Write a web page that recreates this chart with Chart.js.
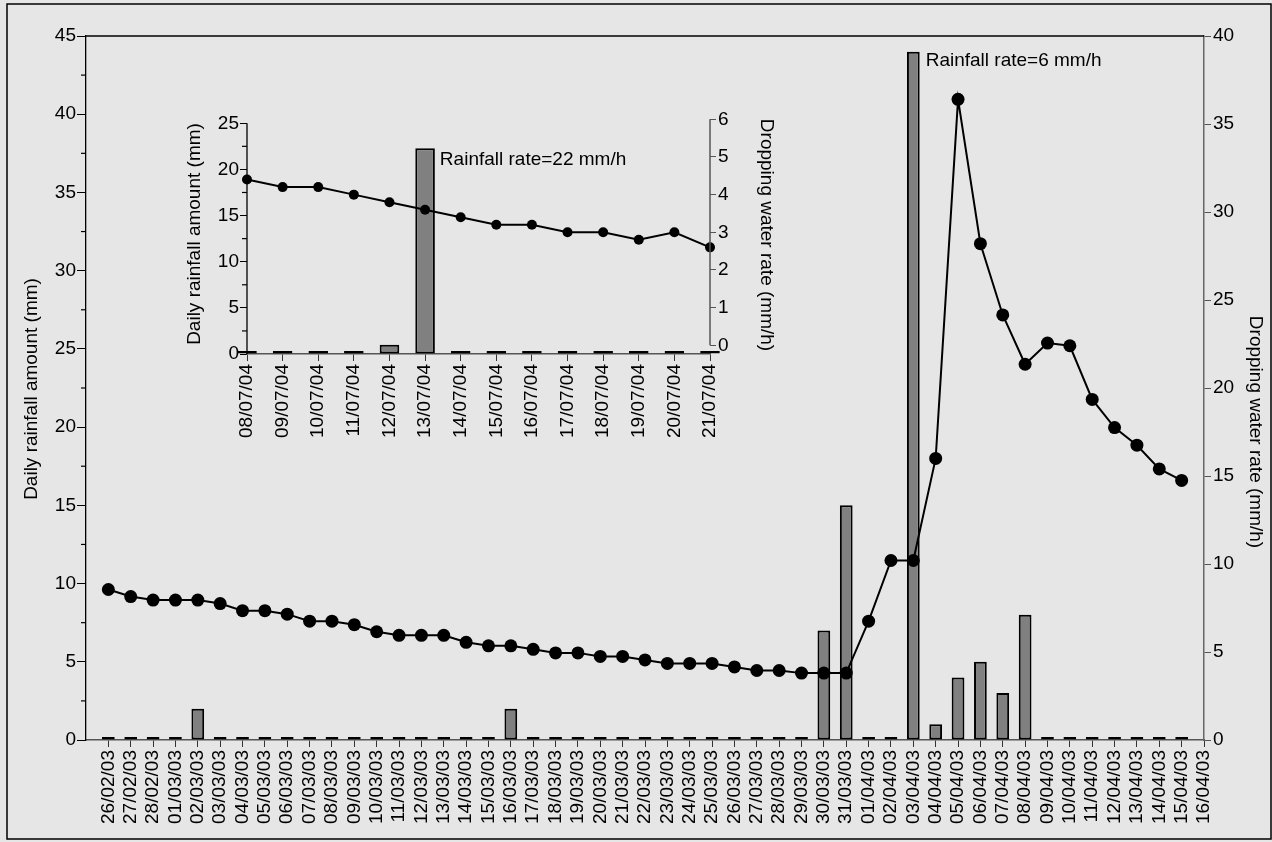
<!DOCTYPE html>
<html>
<head>
<meta charset="utf-8">
<script src="https://cdn.jsdelivr.net/npm/chart.js@4.4.1/dist/chart.umd.min.js"></script>
<style>
  html, body { margin: 0; padding: 0; background: #e6e6e6; }
  #wrap { position: relative; width: 1272px; height: 842px; }
  #main { position: absolute; left: 0; top: 0; }
  #inset { position: absolute; left: 150px; top: 100px; }
</style>
</head>
<body>
<div id="wrap">
  <canvas id="main" width="1272" height="842"></canvas>
  <canvas id="inset" width="640" height="350"></canvas>
</div>
<script>
/* ---- main chart data (spring 2003) ---- */
const dates = [
  "26/02/03", "27/02/03", "28/02/03",
  "01/03/03", "02/03/03", "03/03/03", "04/03/03", "05/03/03", "06/03/03", "07/03/03", "08/03/03",
  "09/03/03", "10/03/03", "11/03/03", "12/03/03", "13/03/03", "14/03/03", "15/03/03", "16/03/03",
  "17/03/03", "18/03/03", "19/03/03", "20/03/03", "21/03/03", "22/03/03", "23/03/03", "24/03/03",
  "25/03/03", "26/03/03", "27/03/03", "28/03/03", "29/03/03", "30/03/03", "31/03/03",
  "01/04/03", "02/04/03", "03/04/03", "04/04/03", "05/04/03", "06/04/03", "07/04/03", "08/04/03",
  "09/04/03", "10/04/03", "11/04/03", "12/04/03", "13/04/03", "14/04/03", "15/04/03", "16/04/03",
];
// daily rainfall (mm), 26/02 .. 15/04
const rainfall = [
  0, 0, 0, 0, 2, 0, 0, 0, 0, 0, 0, 0, 0, 0, 0, 0, 0, 0, 2, 0, 0, 0, 0, 0, 0,
  0, 0, 0, 0, 0, 0, 0, 7, 15, 0, 0, 44, 1, 4, 5, 3, 8, 0, 0, 0, 0, 0, 0, 0,
];
// dropping water rate (mm/h), 26/02 .. 15/04
const dropRate = [
  8.55, 8.15, 7.95, 7.95, 7.95, 7.75, 7.35, 7.35, 7.15, 6.75, 6.75, 6.55, 6.15, 5.95, 5.95, 5.95,
  5.55, 5.35, 5.35, 5.15, 4.95, 4.95, 4.75, 4.75, 4.55, 4.35, 4.35, 4.35, 4.15, 3.95, 3.95, 3.8,
  3.8, 3.8, 6.75, 10.2, 10.2, 16.0, 36.4, 28.2, 24.15, 21.35, 22.55, 22.4, 19.35, 17.75, 16.75,
  15.4, 14.75,
];
const leftTicks = [0, 5, 10, 15, 20, 25, 30, 35, 40, 45];
const rightTicks = [0, 5, 10, 15, 20, 25, 30, 35, 40];

/* ---- inset data (July 2004) ---- */
const insetDates = [
  "08/07/04", "09/07/04", "10/07/04", "11/07/04", "12/07/04", "13/07/04", "14/07/04",
  "15/07/04", "16/07/04", "17/07/04", "18/07/04", "19/07/04", "20/07/04", "21/07/04",
];
const insetRainfall = [0, 0, 0, 0, 1, 22.3, 0.3, 0, 0, 0, 0, 0, 0, 0];
const insetDropRate = [4.4, 4.2, 4.2, 4.0, 3.8, 3.6, 3.4, 3.2, 3.2, 3.0, 3.0, 2.8, 3.0, 2.6];
const insetLeftTicks = [0, 5, 10, 15, 20, 25];
const insetRightTicks = [0, 1, 2, 3, 4, 5, 6];

const FONT = '"Liberation Sans", Arial, sans-serif';
Chart.defaults.font.family = FONT;
Chart.defaults.font.size = 19;
Chart.defaults.color = "#000";

/* ---------------- helpers ---------------- */
function seg(ctx, x1, y1, x2, y2, color, w) {
  ctx.beginPath();
  ctx.strokeStyle = color;
  ctx.lineWidth = w;
  ctx.moveTo(x1, y1);
  ctx.lineTo(x2, y2);
  ctx.stroke();
}
function rotText(ctx, txt, x, y, angle) {
  ctx.save();
  ctx.translate(x, y);
  ctx.rotate(angle);
  ctx.font = `19px ${FONT}`;
  ctx.fillStyle = "#000";
  ctx.textAlign = "center";
  ctx.textBaseline = "middle";
  ctx.fillText(txt, 0, 0);
  ctx.restore();
}
function minorTicks(ctx, scale, from, to, step, len, color) {
  for (let v = from; v < to; v += step) {
    const y = scale.getPixelForValue(v);
    seg(ctx, scale.right - len, y, scale.right, y, color, 1.2);
  }
}
function fixTicks(list) {
  return (s) => { s.ticks = list.map((v) => ({ value: v })); };
}

/* ---------------- main chart ---------------- */
const mainDecor = {
  id: "mainDecor",
  afterDraw(chart) {
    const { ctx, chartArea: a, scales } = chart;
    ctx.save();
    ctx.strokeStyle = "#000";
    ctx.lineWidth = 1.5;
    ctx.strokeRect(7, 4, 1264, 835);
    seg(ctx, a.left, a.top, a.right, a.top, "#000", 1.3);
    minorTicks(ctx, scales.y, 2.5, 45, 5, 5, "#000");
    rotText(ctx, "Daily rainfall amount (mm)", 32, 389, -Math.PI / 2);
    rotText(ctx, "Dropping water rate (mm/h)", 1255, 432, Math.PI / 2);

    const peak = rainfall.indexOf(Math.max(...rainfall)) + 1;
    const bar = chart.getDatasetMeta(0).data[peak];
    ctx.font = `19px ${FONT}`;
    ctx.fillStyle = "#000";
    ctx.textAlign = "left";
    ctx.textBaseline = "middle";
    ctx.fillText("Rainfall rate=6 mm/h", bar.x + bar.width / 2 + 6, bar.y + 9);
    ctx.restore();
  },
};

new Chart(document.getElementById("main"), {
  type: "bar",
  data: {
    labels: ["", ...dates],
    datasets: [
      {
        type: "bar", data: [null, ...rainfall], yAxisID: "y", order: 2,
        backgroundColor: "#808080", borderColor: "#000", borderWidth: 2,
        borderSkipped: false, minBarLength: 3, barPercentage: 0.57, categoryPercentage: 1,
      },
      {
        type: "line", data: [null, ...dropRate], yAxisID: "y1", order: 1,
        borderColor: "#000", borderWidth: 2, tension: 0,
        pointRadius: 6.5, pointBackgroundColor: "#000", pointBorderWidth: 0,
      },
    ],
  },
  options: {
    responsive: false, animation: false, devicePixelRatio: 1,
    layout: { padding: { top: 36, left: 0, right: 0, bottom: 0 } },
    plugins: { legend: { display: false }, tooltip: { enabled: false } },
    scales: {
      x: {
        type: "category", offset: false,
        grid: {
          offset: false, drawOnChartArea: false, tickLength: 7,
          tickColor: (c) => (c.index === 0 ? "rgba(0,0,0,0)" : "#333"),
        },
        border: { color: "#555", width: 1.5 },
        ticks: { autoSkip: false, minRotation: 90, maxRotation: 90, padding: 3 },
        afterFit: (s) => { s.height = 102; },
      },
      y: {
        position: "left", min: 0, max: 45,
        afterBuildTicks: fixTicks(leftTicks),
        grid: { drawOnChartArea: false, tickLength: 9, color: "#000" },
        border: { color: "#000", width: 1.3 },
        ticks: { padding: 1 },
        afterFit: (s) => { s.width = 86; },
      },
      y1: {
        position: "right", min: 0, max: 40,
        afterBuildTicks: fixTicks(rightTicks),
        grid: { drawOnChartArea: false, tickLength: 7, color: "#555" },
        border: { color: "#666", width: 1.5 },
        ticks: { padding: 2 },
        afterFit: (s) => { s.width = 68; },
      },
    },
  },
  plugins: [mainDecor],
});

/* ---------------- inset chart ---------------- */
const insetDecor = {
  id: "insetDecor",
  afterDraw(chart) {
    const { ctx, scales } = chart;
    const yl = scales.y, yr = scales.y1;
    ctx.save();
    seg(ctx, yl.right, yl.getPixelForValue(0), yl.right, yl.getPixelForValue(25), "#000", 1.3);
    seg(ctx, yr.left, yr.getPixelForValue(0), yr.left, yr.getPixelForValue(6), "#555", 1.5);
    minorTicks(ctx, yl, 2.5, 25, 5, 5, "#000");
    rotText(ctx, "Daily rainfall amount (mm)", 45, 134, -Math.PI / 2);
    rotText(ctx, "Dropping water rate (mm/h)", 616, 135, Math.PI / 2);

    const peak = insetRainfall.indexOf(Math.max(...insetRainfall));
    const bar = chart.getDatasetMeta(0).data[peak];
    ctx.font = `19px ${FONT}`;
    ctx.fillStyle = "#000";
    ctx.textAlign = "left";
    ctx.textBaseline = "middle";
    ctx.fillText("Rainfall rate=22 mm/h", bar.x + bar.width / 2 + 5, bar.y + 12);
    ctx.restore();
  },
};

new Chart(document.getElementById("inset"), {
  type: "bar",
  data: {
    labels: insetDates,
    datasets: [
      {
        type: "bar", data: insetRainfall, yAxisID: "y", order: 2, clip: false,
        backgroundColor: "#808080", borderColor: "#000", borderWidth: 2,
        borderSkipped: false, minBarLength: 3, barPercentage: 0.55, categoryPercentage: 1,
      },
      {
        type: "line", data: insetDropRate, yAxisID: "y1", order: 1, clip: false,
        borderColor: "#000", borderWidth: 2, tension: 0,
        pointRadius: 5, pointBackgroundColor: "#000", pointBorderWidth: 0,
      },
    ],
  },
  options: {
    responsive: false, animation: false, devicePixelRatio: 1,
    layout: { padding: { top: 19.3, left: 0, right: 0, bottom: 0 } },
    plugins: { legend: { display: false }, tooltip: { enabled: false } },
    scales: {
      x: {
        type: "category", offset: false,
        grid: { offset: false, drawOnChartArea: false, tickLength: 7, color: "#333" },
        border: { color: "#555", width: 1.5 },
        ticks: { autoSkip: false, minRotation: 90, maxRotation: 90, padding: 3 },
        afterFit: (s) => { s.height = 96; },
      },
      y: {
        position: "left", min: 0, max: 25.43,
        afterBuildTicks: fixTicks(insetLeftTicks),
        grid: { drawOnChartArea: false, tickLength: 7, color: "#000" },
        border: { display: false },
        ticks: { padding: 1 },
        afterFit: (s) => { s.width = 97; },
      },
      y1: {
        position: "right", min: -0.231, max: 6,
        afterBuildTicks: fixTicks(insetRightTicks),
        grid: { drawOnChartArea: false, tickLength: 6, color: "#555" },
        border: { display: false },
        ticks: { padding: 2 },
        afterFit: (s) => { s.width = 80; },
      },
    },
  },
  plugins: [insetDecor],
});
</script>
</body>
</html>
